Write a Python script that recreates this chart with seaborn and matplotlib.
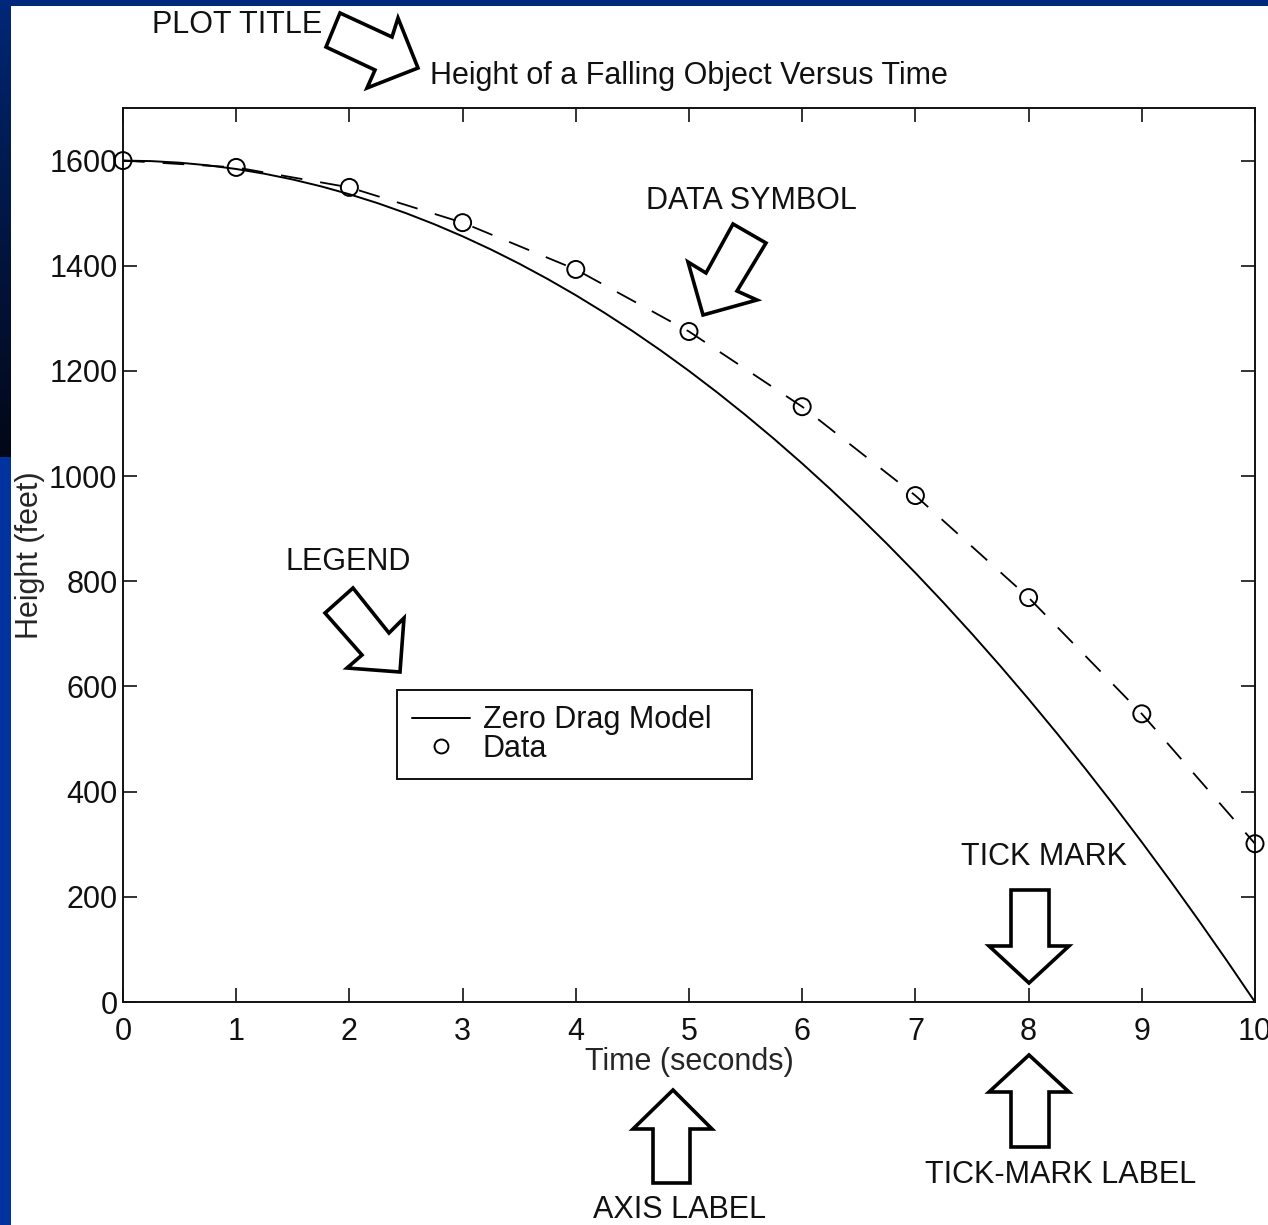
import numpy as np
import pandas as pd
import matplotlib
matplotlib.use("Agg")
import matplotlib.pyplot as plt
import seaborn as sns
from matplotlib.patches import Polygon
from matplotlib.lines import Line2D
from matplotlib.transforms import IdentityTransform

# ---------------- data ----------------
model_time = [0, 0.25, 0.5, 0.75, 1, 1.25, 1.5, 1.75, 2, 2.25, 2.5, 2.75, 3, 3.25, 3.5, 3.75,
              4, 4.25, 4.5, 4.75, 5, 5.25, 5.5, 5.75, 6, 6.25, 6.5, 6.75, 7, 7.25, 7.5, 7.75,
              8, 8.25, 8.5, 8.75, 9, 9.25, 9.5, 9.75, 10]
model_height = [1600, 1599, 1596, 1591, 1584, 1575, 1564, 1551, 1536, 1519, 1500, 1479,
                1456, 1431, 1404, 1375, 1344, 1311, 1276, 1239, 1200, 1159, 1116, 1071,
                1024, 975, 924, 871, 816, 759, 700, 639, 576, 511, 444, 375, 304, 231,
                156, 79, 0]
data_time = [0, 1, 2, 3, 4, 5, 6, 7, 8, 9, 10]
data_height = [1600, 1587, 1549, 1482, 1393, 1275, 1132, 963, 769, 548, 301]
x_ticks = [0, 1, 2, 3, 4, 5, 6, 7, 8, 9, 10]
y_ticks = [0, 200, 400, 600, 800, 1000, 1200, 1400, 1600]

title_text = "Height of a Falling Object Versus Time"
x_label = "Time (seconds)"
y_label = "Height (feet)"
legend_labels = ["Zero Drag Model", "Data"]

W, H = 1268, 1225
FS = 22
sns.set_theme(style="white")
plt.rcParams["font.family"] = ["Liberation Sans", "DejaVu Sans"]
plt.rcParams["text.color"] = "#111111"
plt.rcParams["xtick.color"] = "#111111"
plt.rcParams["ytick.color"] = "#111111"

fig = plt.figure(figsize=(W / 100, H / 100), dpi=100)
fig.patch.set_facecolor("white")

# slide background strips
top_ax = fig.add_axes([0, 1 - 6 / H, 1, 6 / H])
top_ax.axis("off")
top_ax.add_patch(plt.Rectangle((0, 0), 1, 1, color="#00297c", transform=top_ax.transAxes))

left_ax = fig.add_axes([0, 0, 11 / W, 1])
grad = np.zeros((H, 1, 3))
split = 457
c0 = np.array([0x00, 0x29, 0x7c]) / 255
c1 = np.array([0x03, 0x08, 0x18]) / 255
for i in range(H):
    if i < split:
        f = (i / split) ** 0.8
        grad[i, 0] = c0 * (1 - f) + c1 * f
    else:
        grad[i, 0] = np.array([0x00, 0x33, 0x9e]) / 255
left_ax.imshow(grad, aspect="auto", extent=(0, 1, 0, 1), origin="upper")
left_ax.axis("off")

# main axes
L, R, T, B = 123, 1255, 108, 1002
ax = fig.add_axes([L / W, 1 - B / H, (R - L) / W, (B - T) / H])
ax.set_facecolor("white")

model_df = pd.DataFrame({"t": model_time, "h": model_height})
data_df = pd.DataFrame({"t": data_time, "h": data_height})

sns.lineplot(data=model_df, x="t", y="h", ax=ax, color="black", lw=1.4, sort=True)
sns.lineplot(data=data_df, x="t", y="h", ax=ax, color="black", lw=1.3)
ax.lines[-1].set_dashes([12, 10])
sns.scatterplot(data=data_df, x="t", y="h", ax=ax, s=150, marker="o",
                facecolor="none", edgecolor="black", linewidth=1.4, zorder=5, clip_on=False)

ax.set_xlim(0, 10)
ax.set_ylim(0, 1700)
ax.set_xticks(x_ticks)
ax.set_yticks(y_ticks)
ax.set_xticklabels([str(v) for v in x_ticks])
ax.set_yticklabels([str(v) for v in y_ticks])
ax.tick_params(direction="in", length=10, width=1.2, top=True, right=True,
               labelsize=FS, bottom=True, left=True)
ax.tick_params(axis="x", pad=11)
ax.tick_params(axis="y", pad=4)
for s in ax.spines.values():
    s.set_visible(True)
    s.set_color("#111111")
    s.set_linewidth(1.4)

ax.set_xlabel(x_label, fontsize=FS)
ax.set_ylabel(y_label, fontsize=FS)
ax.xaxis.set_label_coords(0.5, -(1047 - B) / (B - T))
ax.xaxis.label.set_va("top")
ax.yaxis.set_label_coords(-(123 - 45) / (R - L), 0.5)
ax.set_title(title_text, fontsize=FS, pad=17)

handles = [Line2D([], [], color="black", lw=1.4),
           Line2D([], [], color="black", lw=0, marker="o", markersize=10,
                  markerfacecolor="none", markeredgewidth=1.4)]
leg_labels = [legend_labels[0] + "   ", legend_labels[1]]
leg = ax.legend(handles, leg_labels, loc="upper left",
                bbox_to_anchor=(397 / W, 1 - 690 / H), bbox_transform=fig.transFigure,
                fontsize=FS, frameon=True, fancybox=False, framealpha=1,
                borderpad=0.5, labelspacing=-0.04, handlelength=1.9, handletextpad=0.4,
                borderaxespad=0)
leg.get_frame().set_edgecolor("#111111")
leg.get_frame().set_linewidth(1.4)

# ---------------- annotations (slide callouts) ----------------
def P(pts):
    return [(x, H - y) for x, y in pts]

arrows = [
    [(340, 13), (392, 37), (398, 18), (418, 68), (367, 88), (375, 70), (326, 47)],
    [(733, 224), (766, 243), (737, 291), (757, 300), (703, 315), (688, 262), (706, 273)],
    [(353, 588), (389, 633), (404, 618), (400, 672), (347, 668), (362, 655), (325, 613)],
    [(1011, 890), (1049, 890), (1049, 946), (1069, 946), (1029, 983), (989, 946), (1011, 946)],
    [(1029, 1055), (1069, 1092), (1049, 1092), (1049, 1147), (1011, 1147), (1011, 1092), (989, 1092)],
    [(673, 1090), (712, 1129), (690, 1129), (690, 1183), (653, 1183), (653, 1129), (633, 1129)],
]
for pts in arrows:
    poly = Polygon(P(pts), closed=True, facecolor="white", edgecolor="black",
                   linewidth=2.6, joinstyle="miter", transform=IdentityTransform())
    fig.patches.append(poly)
    poly.set_figure(fig)

labels = [
    ("PLOT TITLE", 237, 25),
    ("DATA SYMBOL", 751, 201),
    ("LEGEND", 348, 562),
    ("TICK MARK", 1044, 857),
    ("TICK-MARK LABEL", 1061, 1175),
    ("AXIS LABEL", 680, 1210),
]
for txt, x, y in labels:
    fig.text(x / W, 1 - y / H, txt, ha="center", va="center", fontsize=FS, color="#111111")

fig.savefig("out.png", dpi=100)
